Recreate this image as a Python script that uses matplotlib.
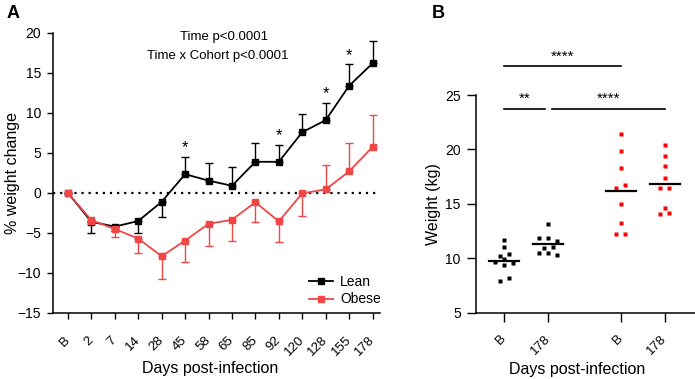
import numpy as np
import matplotlib
matplotlib.use("Agg")
import matplotlib.pyplot as plt
from matplotlib.lines import Line2D

plt.rcParams['font.family'] = ['Liberation Sans', 'DejaVu Sans']

# ===== Panel A data: % weight change =====
days = ['B', '2', '7', '14', '28', '45', '58', '65', '85', '92', '120', '128', '155', '178']
lean = [0, -3.6, -4.2, -3.5, -1.1, 2.35, 1.55, 0.9, 3.9, 3.9, 7.6, 9.1, 13.4, 16.2]
lean_err = [0, 1.4, 0.6, 1.55, 1.95, 2.2, 2.25, 2.3, 2.3, 2.1, 2.3, 2.2, 2.7, 2.8]
obese = [0, -3.4, -4.5, -5.7, -7.9, -5.95, -3.85, -3.35, -1.15, -3.55, -0.05, 0.45, 2.7, 5.75]
obese_err = [0, 0.5, 1.0, 1.85, 2.9, 2.7, 2.75, 2.7, 2.45, 2.6, 2.85, 3.0, 3.6, 4.05]
star_days = ['45', '92', '128', '155']

# ===== Panel B data: weight (kg) =====
groups_b = ['B', '178', 'B', '178']
lean_b0 = [11.64, 11.0, 10.43, 10.25, 9.9, 9.67, 9.57, 9.4, 8.15, 7.94]
lean_b178 = [13.18, 11.88, 11.88, 11.57, 11.06, 10.97, 10.5, 10.5, 10.27]
obese_b0 = [21.43, 19.85, 18.3, 16.7, 16.5, 15.0, 13.27, 12.24, 12.21]
obese_b178 = [20.39, 19.36, 18.45, 17.36, 16.42, 16.42, 14.66, 14.15, 14.06]

RED = '#f04646'

fig = plt.figure(figsize=(6.95, 3.79), dpi=100)

# ===== Panel A =====
ax = fig.add_axes([53 / 695, 1 - 313 / 379, 327 / 695, 280 / 379])
x = np.arange(len(days))
lean = np.array(lean)
obese = np.array(obese)


def one_sided(vals, errs):
    # error bar only away from zero, like the original
    errs = np.array(errs)
    lo = np.where(vals < 0, errs, 0)
    hi = np.where(vals >= 0, errs, 0)
    return [lo, hi]


ax.axhline(0, color='black', lw=1.6, ls=(0, (1, 2.2)), zorder=1)
ax.errorbar(x, lean, yerr=one_sided(lean, lean_err), color='black', marker='s',
            ms=4.2, lw=1.3, elinewidth=1.0, capsize=2.6, capthick=1.0, zorder=3)
ax.errorbar(x, obese, yerr=one_sided(obese, obese_err), color=RED, marker='s',
            ms=4.2, lw=1.3, elinewidth=1.0, capsize=2.6, capthick=1.0, zorder=4)

for d in star_days:
    i = days.index(d)
    ax.annotate('*', (i, lean[i] + lean_err[i]), xytext=(0, 1), textcoords='offset points',
                ha='center', va='bottom', fontsize=12)

ax.text(224 / 695, 1 - 37 / 379, 'Time p<0.0001', transform=fig.transFigure,
        ha='center', va='center', fontsize=9.5)
ax.text(218 / 695, 1 - 56 / 379, 'Time x Cohort p<0.0001', transform=fig.transFigure,
        ha='center', va='center', fontsize=9.5)

ax.set_xlim(-0.64, 13.32)
ax.set_ylim(-15, 20)
ax.set_yticks(np.arange(-15, 21, 5))
ax.set_xticks(x)
ax.set_xticklabels(days, rotation=45, ha='right', va='center', rotation_mode='anchor')
ax.tick_params(axis='x', length=4.2, width=1.0, labelsize=9.5, pad=14)
ax.tick_params(axis='y', length=4.2, width=1.0, labelsize=10, pad=4.5)
ax.set_ylabel('% weight change', fontsize=11.5)
ax.yaxis.set_label_coords(-0.125, 0.5)
ax.set_xlabel('Days post-infection', fontsize=11.5)
ax.xaxis.set_label_coords(0.48, -0.2)
ax.xaxis.label.set_va('center')
ax.yaxis.label.set_va('center')
for s in ['top', 'right']:
    ax.spines[s].set_visible(False)
for s in ['left', 'bottom']:
    ax.spines[s].set_linewidth(1.1)

handles = [Line2D([], [], color='black', marker='s', ms=4.2, lw=1.3),
           Line2D([], [], color=RED, marker='s', ms=4.2, lw=1.3)]
ax.legend(handles, ['Lean', 'Obese'], loc='upper left',
          bbox_to_anchor=(309 / 695, 1 - 275 / 379),
          bbox_transform=fig.transFigure, frameon=False, fontsize=10,
          borderpad=0, borderaxespad=0, handlelength=1.75, handletextpad=0.5,
          labelspacing=0.25)

fig.text(7 / 695, 1 - 13 / 379, 'A', fontsize=13, fontweight='bold', va='center')

# ===== Panel B =====
bx = fig.add_axes([476 / 695, 1 - 312.7 / 379, 219 / 695, 217.7 / 379])
pos_b = [0, 1, 2.65, 3.65]
series_b = [lean_b0, lean_b178, obese_b0, obese_b178]
colors_b = ['black', 'black', 'red', 'red']
for p, vals, c in zip(pos_b, series_b, colors_b):
    vals = np.array(vals)
    # group close values into rows and spread them sideways (dot plot)
    rows = []
    for k in np.argsort(-vals):
        for row in rows:
            if abs(row[0] - vals[k]) < 0.35:
                row[1].append(k)
                break
        else:
            rows.append([vals[k], [k]])
    offs = np.zeros(len(vals))
    for _, idx in rows:
        if len(idx) == 2:
            idx = sorted(idx, key=lambda k: vals[k])
            slots = [-0.5, 0.5]
        else:
            slots = [0, -1, 1, -2, 2][:len(idx)]
        for s, k in zip(slots, idx):
            offs[k] = s * 0.2
    bx.plot(p + offs, vals, ls='none', marker='s', ms=3.2, color=c, mec='none', zorder=3)
    bx.plot([p - 0.34, p + 0.34], [vals.mean()] * 2, color='black', lw=1.6, zorder=4)

# significance bars
sig = [(0, 2.65, 27.64, '****'), (0, 0.92, 23.74, '**'), (1.08, 3.65, 23.74, '****')]
for x0, x1, yy, lab in sig:
    bx.plot([x0, x1], [yy, yy], color='black', lw=1.2, clip_on=False)
    bx.text((x0 + x1) / 2, yy + 0.25, lab, ha='center', va='bottom', fontsize=11)

bx.set_xlim(-0.64, 4.34)
bx.set_ylim(5, 25)
bx.set_yticks([5, 10, 15, 20, 25])
bx.set_xticks(pos_b)
bx.set_xticklabels(groups_b, rotation=45, ha='right', va='center', rotation_mode='anchor')
bx.tick_params(axis='x', length=6.5, width=1.0, labelsize=9.5, pad=11)
bx.tick_params(axis='y', length=6.5, width=1.0, labelsize=10, pad=4.5)
bx.set_ylabel('Weight (kg)', fontsize=11.5)
bx.yaxis.set_label_coords(-0.196, 0.5)
bx.set_xlabel('Days post-infection', fontsize=11.5)
bx.xaxis.set_label_coords(0.46, -0.26)
bx.xaxis.label.set_va('center')
bx.yaxis.label.set_va('center')
for s in ['top', 'right']:
    bx.spines[s].set_visible(False)
for s in ['left', 'bottom']:
    bx.spines[s].set_linewidth(1.1)

fig.text(432 / 695, 1 - 13 / 379, 'B', fontsize=13, fontweight='bold', va='center')

plt.savefig('out.png', dpi=100)
